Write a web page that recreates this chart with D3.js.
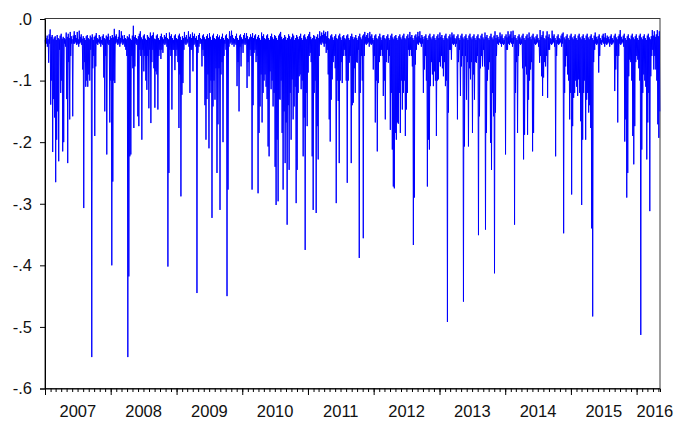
<!DOCTYPE html>
<html><head><meta charset="utf-8">
<script src="https://cdn.jsdelivr.net/npm/d3@7"></script>
<style>html,body{margin:0;padding:0;background:#fff}svg{display:block}</style>
</head><body>
<svg id="chart" width="675" height="424"></svg>
<script>
// Upper and lower reading of each ~2-trading-day period, Jan 2007 - May 2016
const highs = [
-.034,-.031,-.027,-.033,-.025,-.017,-.029,-.026,-.033,-.03,
-.028,-.034,-.026,-.031,-.033,-.027,-.024,-.032,-.029,-.031,
-.033,-.022,-.029,-.024,-.031,-.021,-.028,-.033,-.027,-.02,
-.026,-.031,-.021,-.033,-.019,-.029,-.025,-.032,-.028,-.031,
-.034,-.028,-.026,-.031,-.033,-.027,-.03,-.025,-.034,-.029,
-.027,-.023,-.031,-.033,-.026,-.029,-.034,-.028,-.025,-.031,
-.033,-.027,-.029,-.024,-.034,-.028,-.031,-.026,-.03,-.016,
-.028,-.025,-.033,-.029,-.018,-.031,-.02,-.027,-.033,-.026,
-.031,-.033,-.028,-.03,-.025,-.032,-.034,-.027,-.011,-.029,
-.026,-.031,-.033,-.028,-.024,-.02,-.03,-.033,-.027,-.025,
-.032,-.034,-.026,-.029,-.031,-.022,-.028,-.026,-.022,-.032,
-.033,-.027,-.025,-.031,-.034,-.028,-.024,-.03,-.033,-.026,
-.029,-.023,-.031,-.033,-.022,-.028,-.025,-.031,-.034,-.027,
-.025,-.031,-.033,-.027,-.024,-.029,-.034,-.028,-.031,-.021,
-.03,-.026,-.033,-.02,-.029,-.025,-.031,-.022,-.028,-.024,
-.031,-.028,-.034,-.026,-.023,-.031,-.033,-.027,-.025,-.03,
-.033,-.028,-.025,-.031,-.023,-.029,-.034,-.027,-.024,-.031,
-.033,-.028,-.025,-.03,-.027,-.033,-.029,-.024,-.031,-.034,
-.027,-.025,-.031,-.033,-.02,-.028,-.019,-.026,-.031,-.033,
-.028,-.024,-.031,-.034,-.027,-.025,-.03,-.033,-.026,-.023,
-.031,-.023,-.028,-.033,-.03,-.025,-.029,-.023,-.031,-.027,
-.025,-.033,-.029,-.026,-.031,-.034,-.022,-.028,-.025,-.031,
-.033,-.027,-.025,-.031,-.034,-.028,-.024,-.03,-.033,-.026,
-.028,-.031,-.034,-.027,-.024,-.021,-.029,-.033,-.031,-.026,
-.029,-.034,-.031,-.025,-.028,-.033,-.03,-.024,-.027,-.034,
-.031,-.026,-.029,-.033,-.028,-.024,-.031,-.034,-.027,-.025,
-.03,-.033,-.028,-.025,-.021,-.029,-.033,-.031,-.026,-.028,
-.033,-.029,-.025,-.031,-.02,-.028,-.022,-.026,-.019,-.024,
-.021,-.028,-.02,-.031,-.033,-.027,-.025,-.03,-.034,-.028,
-.025,-.031,-.033,-.027,-.024,-.03,-.034,-.028,-.026,-.031,
-.033,-.027,-.025,-.031,-.034,-.028,-.024,-.029,-.033,-.03,
-.026,-.031,-.034,-.028,-.024,-.03,-.033,-.027,-.025,-.021,
-.029,-.026,-.023,-.031,-.021,-.028,-.025,-.031,-.034,-.027,
-.025,-.031,-.033,-.028,-.024,-.03,-.034,-.027,-.026,-.031,
-.033,-.028,-.025,-.031,-.034,-.027,-.024,-.03,-.033,-.028,
-.026,-.031,-.034,-.028,-.025,-.03,-.033,-.027,-.024,-.031,
-.033,-.028,-.025,-.031,-.021,-.029,-.026,-.031,-.034,-.027,
-.025,-.03,-.021,-.028,-.02,-.031,-.026,-.029,-.033,-.028,
-.025,-.031,-.034,-.027,-.024,-.03,-.033,-.028,-.025,-.031,
-.034,-.028,-.025,-.031,-.022,-.029,-.026,-.031,-.034,-.027,
-.024,-.031,-.033,-.028,-.025,-.03,-.022,-.027,-.025,-.031,
-.033,-.028,-.025,-.031,-.034,-.027,-.024,-.03,-.033,-.028,
-.025,-.031,-.034,-.027,-.024,-.03,-.033,-.028,-.025,-.031,
-.034,-.028,-.025,-.031,-.033,-.027,-.024,-.03,-.033,-.022,
-.029,-.026,-.031,-.034,-.028,-.024,-.03,-.033,-.027,-.02,
-.031,-.026,-.029,-.033,-.022,-.028,-.025,-.031,-.034,-.028,
-.025,-.03,-.02,-.028,-.025,-.02,-.031,-.019,-.029,-.026,
-.031,-.034,-.028,-.025,-.03,-.033,-.027,-.024,-.031,-.034,
-.028,-.025,-.031,-.022,-.029,-.033,-.027,-.024,-.03,-.033,
-.028,-.025,-.031,-.034,-.018,-.029,-.026,-.02,-.031,-.033,
-.027,-.02,-.029,-.025,-.031,-.033,-.019,-.028,-.025,-.031,
-.034,-.028,-.025,-.031,-.033,-.027,-.024,-.022,-.03,-.033,
-.028,-.025,-.031,-.034,-.027,-.024,-.03,-.033,-.028,-.025,
-.031,-.034,-.027,-.024,-.03,-.033,-.028,-.025,-.031,-.034,
-.027,-.024,-.03,-.033,-.028,-.025,-.031,-.034,-.027,-.022,
-.029,-.033,-.028,-.025,-.031,-.034,-.027,-.024,-.03,-.023,
-.031,-.027,-.029,-.033,-.028,-.025,-.031,-.034,-.027,-.024,
-.03,-.033,-.028,-.025,-.018,-.029,-.033,-.027,-.024,-.031,
-.034,-.028,-.025,-.031,-.033,-.027,-.024,-.03,-.033,-.028,
-.025,-.031,-.034,-.027,-.024,-.03,-.033,-.028,-.025,-.031,
-.034,-.027,-.024,-.03,-.033,-.028,-.018,-.027,-.02,-.029,
-.025,-.018,-.028,-.02
];
const lows = [
-.045,-.04,-.045,-.071,-.04,-.139,-.10,-.216,-.13,-.16,
-.265,-.196,-.15,-.231,-.05,-.12,-.10,-.215,-.20,-.04,
-.045,-.13,-.234,-.07,-.163,-.06,-.04,-.158,-.04,-.04,
-.038,-.042,-.04,-.045,-.04,-.038,-.042,-.082,-.307,-.07,
-.11,-.10,-.11,-.09,-.10,-.05,-.549,-.08,-.06,-.19,
-.077,-.04,-.042,-.038,-.04,-.045,-.04,-.042,-.095,-.15,
-.06,-.22,-.04,-.042,-.168,-.10,-.40,-.264,-.10,-.104,
-.04,-.038,-.042,-.04,-.045,-.04,-.038,-.042,-.04,-.045,
-.05,-.06,-.549,-.418,-.223,-.22,-.06,-.08,-.177,-.077,
-.04,-.042,-.158,-.174,-.05,-.06,-.196,-.05,-.085,-.06,
-.10,-.115,-.06,-.145,-.05,-.169,-.07,-.05,-.08,-.144,
-.085,-.09,-.147,-.06,-.05,-.065,-.05,-.055,-.04,-.042,
-.04,-.045,-.402,-.25,-.05,-.06,-.147,-.05,-.05,-.083,
-.06,-.05,-.07,-.177,-.09,-.288,-.123,-.104,-.05,-.04,
-.042,-.04,-.038,-.045,-.12,-.05,-.05,-.085,-.042,-.04,
-.045,-.445,-.055,-.045,-.04,-.04,-.077,-.05,-.06,-.14,
-.196,-.13,-.09,-.21,-.12,-.10,-.323,-.142,-.10,-.131,
-.08,-.25,-.171,-.08,-.31,-.09,-.07,-.20,-.06,-.04,
-.05,-.45,-.277,-.045,-.04,-.038,-.042,-.04,-.045,-.04,
-.042,-.109,-.07,-.15,-.045,-.077,-.04,-.055,-.04,-.042,
-.04,-.112,-.07,-.093,-.05,-.06,-.277,-.14,-.055,-.05,
-.07,-.06,-.283,-.185,-.142,-.09,-.168,-.12,-.10,-.09,
-.11,-.13,-.207,-.223,-.085,-.114,-.10,-.142,-.12,-.24,
-.302,-.196,-.296,-.13,-.131,-.10,-.185,-.277,-.15,-.234,
-.168,-.334,-.14,-.245,-.12,-.196,-.098,-.163,-.142,-.11,
-.299,-.245,-.12,-.093,-.09,-.114,-.10,-.223,-.16,-.375,
-.12,-.174,-.087,-.06,-.055,-.07,-.223,-.31,-.12,-.10,
-.315,-.174,-.228,-.06,-.04,-.042,-.038,-.04,-.045,-.04,
-.055,-.05,-.09,-.163,-.199,-.131,-.098,-.07,-.06,-.08,
-.299,-.10,-.133,-.234,-.10,-.07,-.104,-.06,-.05,-.06,
-.10,-.266,-.10,-.071,-.06,-.234,-.14,-.136,-.08,-.12,
-.07,-.071,-.05,-.388,-.12,-.06,-.10,-.356,-.06,-.04,
-.042,-.04,-.038,-.045,-.04,-.042,-.04,-.082,-.06,-.168,
-.10,-.215,-.104,-.07,-.06,-.05,-.06,-.125,-.10,-.163,
-.07,-.05,-.071,-.06,-.18,-.12,-.212,-.272,-.275,-.185,
-.196,-.168,-.17,-.12,-.185,-.10,-.147,-.12,-.10,-.19,
-.147,-.12,-.05,-.06,-.05,-.06,-.077,-.367,-.29,-.074,
-.05,-.04,-.042,-.038,-.04,-.045,-.04,-.12,-.082,-.06,
-.10,-.272,-.196,-.212,-.109,-.07,-.09,-.109,-.085,-.10,
-.19,-.10,-.098,-.07,-.077,-.06,-.08,-.093,-.07,-.109,
-.10,-.492,-.152,-.05,-.05,-.066,-.04,-.042,-.04,-.045,
-.04,-.163,-.07,-.05,-.125,-.077,-.06,-.459,-.207,-.06,
-.131,-.07,-.207,-.08,-.098,-.07,-.185,-.09,-.131,-.07,
-.071,-.06,-.351,-.158,-.08,-.06,-.077,-.05,-.077,-.342,
-.185,-.10,-.082,-.07,-.201,-.245,-.12,-.158,-.413,-.152,
-.06,-.04,-.042,-.038,-.04,-.045,-.04,-.042,-.04,-.22,
-.05,-.05,-.04,-.042,-.038,-.04,-.045,-.04,-.334,-.12,
-.07,-.185,-.06,-.04,-.042,-.04,-.08,-.228,-.188,-.077,
-.09,-.188,-.131,-.10,-.082,-.07,-.215,-.185,-.04,-.042,
-.04,-.038,-.045,-.071,-.06,-.093,-.125,-.095,-.07,-.077,
-.06,-.128,-.05,-.05,-.04,-.042,-.04,-.038,-.045,-.223,
-.06,-.04,-.042,-.04,-.038,-.045,-.04,-.348,-.12,-.077,
-.06,-.09,-.10,-.163,-.12,-.285,-.174,-.128,-.12,-.10,
-.11,-.125,-.098,-.12,-.166,-.302,-.196,-.12,-.10,-.196,
-.131,-.12,-.152,-.14,-.177,-.34,-.483,-.07,-.05,-.04,
-.042,-.04,-.087,-.06,-.04,-.042,-.038,-.04,-.045,-.04,
-.042,-.04,-.038,-.045,-.04,-.042,-.04,-.038,-.117,-.082,
-.06,-.168,-.06,-.04,-.042,-.04,-.038,-.045,-.199,-.163,
-.29,-.25,-.093,-.066,-.07,-.10,-.19,-.236,-.174,-.07,
-.06,-.066,-.08,-.10,-.513,-.212,-.12,-.09,-.10,-.11,
-.228,-.168,-.12,-.312,-.093,-.06,-.05,-.082,-.06,-.082,
-.10,-.171,-.193,-.15
];
const yearLabels = ["2007","2008","2009","2010","2011","2012","2013","2014","2015","2016"];
const yTickValues = [0, -0.1, -0.2, -0.3, -0.4, -0.5, -0.6];
const yTickLabels = [".0", "-.1", "-.2", "-.3", "-.4", "-.5", "-.6"];

const firstDay = new Date(2007, 0, 2);
const lastDay = new Date(2016, 4, 9);

const W = 675, H = 424;
const margin = {left: 45, right: 15, top: 19, bottom: 35.5};
const svg = d3.select("#chart");
const font = "'Liberation Sans', Arial, sans-serif";

const x = d3.scaleTime()
  .domain([new Date(2007, 0, 1), new Date(2016, 4, 10)])
  .range([margin.left, W - margin.right]);
const y = d3.scaleLinear()
  .domain([-0.6, 0])
  .range([H - margin.bottom, margin.top]);

// each period contributes its upper reading, then its lower reading
const n = Math.min(highs.length, lows.length);
const span = lastDay - firstDay;
const points = [];
for (let i = 0; i < n; i++) {
  points.push({date: new Date(+firstDay + span * (2 * i) / (2 * n - 1)), value: highs[i]});
  points.push({date: new Date(+firstDay + span * (2 * i + 1) / (2 * n - 1)), value: lows[i]});
}

// frame
svg.append("rect")
  .attr("x", margin.left).attr("y", margin.top - 0.5)
  .attr("width", W - margin.right - margin.left)
  .attr("height", H - margin.bottom - margin.top + 0.5)
  .attr("fill", "#fff").attr("stroke", "#3a3a3a").attr("stroke-width", 1);

// series
svg.append("path")
  .datum(points)
  .attr("fill", "none")
  .attr("stroke", "#0000ff")
  .attr("stroke-width", 1)
  .attr("d", d3.line().x(d => x(d.date)).y(d => y(d.value)));

// y axis
const yAxis = svg.append("g")
  .attr("transform", `translate(${margin.left},0)`)
  .call(d3.axisLeft(y).tickValues(yTickValues).tickSize(5).tickPadding(8)
    .tickFormat((d, i) => yTickLabels[i]));
yAxis.select(".domain").attr("stroke", "#000");
yAxis.selectAll(".tick line").attr("stroke", "#000");
yAxis.selectAll("text").attr("font-family", font).attr("font-size", "16.5px").attr("fill", "#111");

// x axis: monthly minor ticks, yearly major ticks
const xBase = H - margin.bottom;
const xMinor = svg.append("g")
  .attr("transform", `translate(0,${xBase})`)
  .call(d3.axisBottom(x).ticks(d3.timeMonth.every(1)).tickSize(3.5).tickFormat(""));
xMinor.select(".domain").attr("stroke", "#000");
xMinor.selectAll(".tick line").attr("stroke", "#000");
const xMajor = svg.append("g")
  .attr("transform", `translate(0,${xBase})`)
  .call(d3.axisBottom(x).ticks(d3.timeYear.every(1)).tickSize(6.5).tickFormat(""));
xMajor.select(".domain").remove();
xMajor.selectAll(".tick line").attr("stroke", "#000");

// year labels sit in the middle of each year; the last, partial year starts at its tick
svg.append("g").selectAll("text")
  .data(yearLabels)
  .join("text")
  .attr("x", (d, i) => {
    const yr = +d;
    if (i === yearLabels.length - 1) return x(new Date(yr, 0, 1));
    return (x(new Date(yr, 0, 1)) + x(new Date(yr + 1, 0, 1))) / 2;
  })
  .attr("y", 416.5)
  .attr("text-anchor", (d, i) => i === yearLabels.length - 1 ? "start" : "middle")
  .attr("font-family", font).attr("font-size", "16.5px").attr("fill", "#111")
  .text(d => d);
</script>
</body></html>
